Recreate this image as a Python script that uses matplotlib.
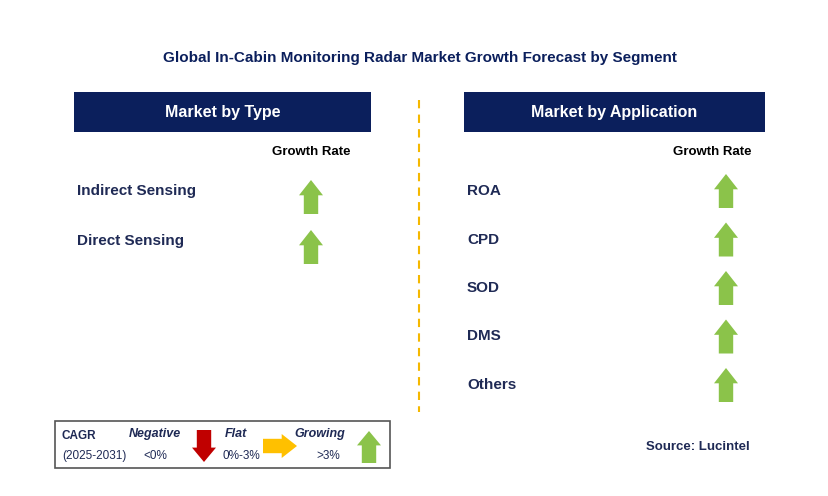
import matplotlib.pyplot as plt
from matplotlib.patches import Rectangle, Polygon

plt.rcParams['font.family'] = 'Liberation Sans'

type_labels = ['Indirect Sensing', 'Direct Sensing']
type_trend = ['up', 'up']
app_labels = ['ROA', 'CPD', 'SOD', 'DMS', 'Others']
app_trend = ['up', 'up', 'up', 'up', 'up']

NAVY = '#0b1f5c'
GREEN = '#8bc34a'
RED = '#c00000'
YELLOW = '#ffc000'
TXT = '#1f2a55'

fig = plt.figure(figsize=(8.29, 4.96), dpi=100)
ax = fig.add_axes([0, 0, 1, 1])
ax.set_xlim(0, 829)
ax.set_ylim(496, 0)
ax.axis('off')


def arrow(cx, cy, kind, w=24, h=34, color=None):
    # shaft half-width, head length
    s, hl = w * 0.3, h * 0.45
    if kind == 'up':
        pts = [(cx, cy - h / 2), (cx + w / 2, cy - h / 2 + hl), (cx + s, cy - h / 2 + hl),
               (cx + s, cy + h / 2), (cx - s, cy + h / 2), (cx - s, cy - h / 2 + hl),
               (cx - w / 2, cy - h / 2 + hl)]
        color = color or GREEN
    elif kind == 'down':
        pts = [(cx, cy + h / 2), (cx + w / 2, cy + h / 2 - hl), (cx + s, cy + h / 2 - hl),
               (cx + s, cy - h / 2), (cx - s, cy - h / 2), (cx - s, cy + h / 2 - hl),
               (cx - w / 2, cy + h / 2 - hl)]
        color = color or RED
    else:
        pts = [(cx + h / 2, cy), (cx + h / 2 - hl, cy - w / 2), (cx + h / 2 - hl, cy - s),
               (cx - h / 2, cy - s), (cx - h / 2, cy + s), (cx + h / 2 - hl, cy + s),
               (cx + h / 2 - hl, cy + w / 2)]
        color = color or YELLOW
    ax.add_patch(Polygon(pts, closed=True, color=color, lw=0))


ax.text(420, 58, 'Global In-Cabin Monitoring Radar Market Growth Forecast by Segment',
        ha='center', va='center', fontsize=11, fontweight='bold', color=NAVY)

# headers
for x0, x1, title in [(74, 371, 'Market by Type'), (464, 765, 'Market by Application')]:
    ax.add_patch(Rectangle((x0, 92), x1 - x0, 40, color=NAVY, lw=0))
    ax.text((x0 + x1) / 2, 112, title, ha='center', va='center', fontsize=11.5,
            fontweight='bold', color='white')

ax.plot([419, 419], [100, 412], ls=(0, (4, 3)), color='#f5b800', lw=1.5)

ax.text(311, 152, 'Growth Rate', ha='center', va='center', fontsize=9.5, fontweight='bold')
ax.text(712, 152, 'Growth Rate', ha='center', va='center', fontsize=9.5, fontweight='bold')

for i, (lab, tr) in enumerate(zip(type_labels, type_trend)):
    y = 191 + i * 50
    ax.text(77, y, lab, ha='left', va='center', fontsize=11, fontweight='bold', color=TXT)
    arrow(311, y + 6, tr)

for i, (lab, tr) in enumerate(zip(app_labels, app_trend)):
    y = 191 + i * 48.5
    ax.text(467, y, lab, ha='left', va='center', fontsize=11, fontweight='bold', color=TXT)
    arrow(726, y, tr)

# legend box
ax.add_patch(Rectangle((55, 421), 335, 47, fill=False, ec='#555555', lw=1.2))
ax.text(62, 436, 'CAGR', fontsize=8.5, fontweight='bold', color=TXT, va='center')
ax.text(62, 456, '(2025-2031)', fontsize=8.5, color=TXT, va='center')
ax.text(155, 434, 'Negative', fontsize=9, fontweight='bold', style='italic', color=TXT, ha='center', va='center')
ax.text(155, 456, '<0%', fontsize=8.5, color=TXT, ha='center', va='center')
arrow(204, 446, 'down', w=24, h=32)
ax.text(236, 434, 'Flat', fontsize=9, fontweight='bold', style='italic', color=TXT, ha='center', va='center')
ax.text(241, 456, '0%-3%', fontsize=8.5, color=TXT, ha='center', va='center')
arrow(280, 446, 'right', w=24, h=34)
ax.text(320, 434, 'Growing', fontsize=9, fontweight='bold', style='italic', color=TXT, ha='center', va='center')
ax.text(328, 456, '>3%', fontsize=8.5, color=TXT, ha='center', va='center')
arrow(369, 447, 'up', w=24, h=32)

ax.text(750, 447, 'Source: Lucintel', ha='right', va='center', fontsize=9.5, fontweight='bold', color=TXT)

fig.savefig('out.png', dpi=100)
